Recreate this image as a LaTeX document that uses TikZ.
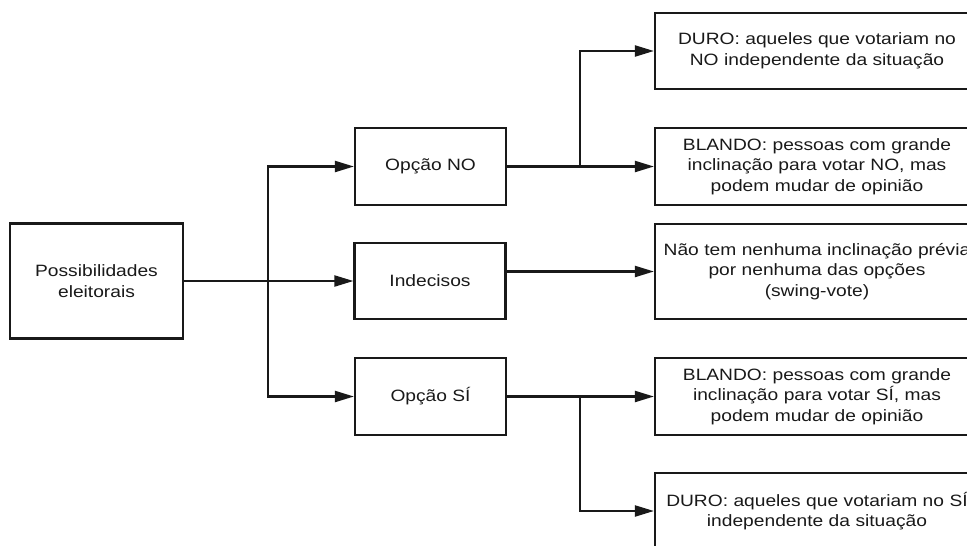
\documentclass[tikz,border=0pt]{standalone}
\usepackage{fontspec}
\setmainfont{Liberation Sans}[FakeStretch=1.17]
\usetikzlibrary{arrows.meta}
\definecolor{ink}{RGB}{25,25,25}
\begin{document}
\begin{tikzpicture}[x=1pt,y=-1pt,
  box/.style={draw=ink, line width=2.2pt, rectangle, inner sep=0pt, align=center,
    font=\fontsize{16.4}{20.5}\selectfont, text=ink},
  midbox/.style={box, minimum width=151pt, minimum height=77pt},
  rbox/.style={box, minimum width=324pt, text width=320pt},
  conn/.style={draw=ink, line width=2.2pt},
  arr/.style={conn, -{Triangle[length=19pt,width=11pt]}}]
\useasboundingbox (0,0) rectangle (967,546);
\clip (0,0) rectangle (967,546);
\fill[white] (0,0) rectangle (967,546);

\node[box, minimum width=173pt, minimum height=115pt] (pos) at (96.5,281) {Possibilidades\\eleitorais};

\node[midbox] (no)  at (430.5,166.5) {Opção NO};
\node[midbox, minimum height=76pt] (ind) at (430,281) {Indecisos};
\node[midbox] (si)  at (430.5,396.5) {Opção SÍ};

\node[rbox, minimum height=76pt] (dno) at (817,51)  {DURO: aqueles que votariam no\\NO independente da situação};
\node[rbox, minimum height=77pt] (bno) at (817,166.5) {BLANDO: pessoas com grande\\inclinação para votar NO, mas\\podem mudar de opinião};
\node[rbox, minimum height=95pt] (nao) at (817,271.5) {Não tem nenhuma inclinação prévia\\por nenhuma das opções\\(swing-vote)};
\node[rbox, minimum height=77pt] (bsi) at (817,396.5) {BLANDO: pessoas com grande\\inclinação para votar SÍ, mas\\podem mudar de opinião};
\node[rbox, minimum height=76pt] (dsi) at (817,511) {DURO: aqueles que votariam no SÍ\\independente da situação};

\coordinate (tr) at (268,281);
\coordinate (jn) at (580,166.5);
\coordinate (js) at (580,396.5);

\draw[conn] (pos.east) -- (tr);
\draw[arr] (tr) -- (ind.west);
\draw[arr] (tr) |- (no.west);
\draw[arr] (tr) |- (si.west);

\draw[conn] (no.east) -- (jn);
\draw[arr] (jn) -- (bno.west);
\draw[arr] (jn) |- (dno.west);

\draw[arr] (ind.east |- nao.west) -- (nao.west);

\draw[conn] (si.east) -- (js);
\draw[arr] (js) -- (bsi.west);
\draw[arr] (js) |- (dsi.west);
\end{tikzpicture}
\end{document}
